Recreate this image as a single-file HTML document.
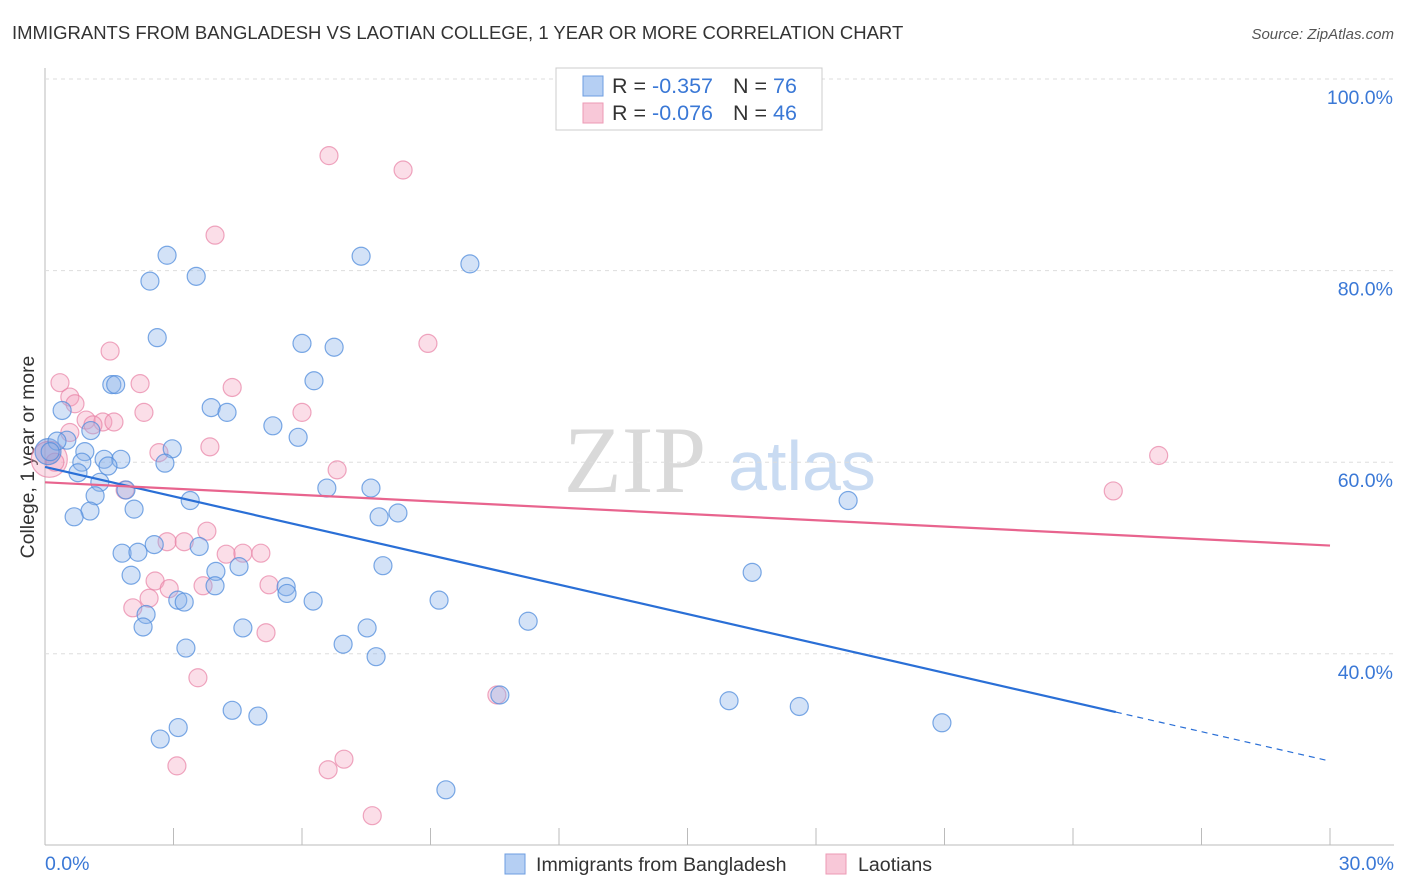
<!DOCTYPE html>
<html><head><meta charset="utf-8"><style>
body{margin:0;background:#fff;font-family:"Liberation Sans",sans-serif;}
#w{position:relative;width:1406px;height:892px;overflow:hidden}
</style></head><body><div id="w">
<svg id="s" width="1406" height="892" xmlns="http://www.w3.org/2000/svg">
<text x="12" y="39" font-size="18.5" fill="#333">IMMIGRANTS FROM BANGLADESH VS LAOTIAN COLLEGE, 1 YEAR OR MORE CORRELATION CHART</text>
<text x="1394" y="39" font-size="15" fill="#555" font-style="italic" text-anchor="end">Source: ZipAtlas.com</text>
<text x="34" y="457" font-size="19.4" fill="#333" text-anchor="middle" transform="rotate(-90 34 457)">College, 1 year or more</text>
<text x="635" y="492" font-size="95" fill="#d9d9d9" font-family="Liberation Serif,serif" text-anchor="middle">ZIP</text>
<text x="802" y="490" font-size="70" fill="#c9dbf2" text-anchor="middle">atlas</text>
<g id="grid"></g><g id="pts"></g><g id="lines"></g>
<g>
<rect x="556" y="68" width="266" height="62" fill="#fff" stroke="#ccc"/>
<rect x="583" y="76" width="20" height="20" fill="#b5cff3" stroke="#6d9de0"/>
<rect x="583" y="103" width="20" height="20" fill="#f8c8d8" stroke="#ec9ab5"/>
<text x="612" y="93" font-size="21.5" fill="#333">R = <tspan fill="#3a78d6">-0.357</tspan></text>
<text x="733" y="93" font-size="21.5" fill="#333">N = <tspan fill="#3a78d6">76</tspan></text>
<text x="612" y="120" font-size="21.5" fill="#333">R = <tspan fill="#3a78d6">-0.076</tspan></text>
<text x="733" y="120" font-size="21.5" fill="#333">N = <tspan fill="#3a78d6">46</tspan></text>
</g>
<g>
<rect x="505" y="854" width="20" height="20" fill="#b5cff3" stroke="#6d9de0"/>
<text x="536" y="871" font-size="19.6" fill="#333">Immigrants from Bangladesh</text>
<rect x="826" y="854" width="20" height="20" fill="#f8c8d8" stroke="#ec9ab5"/>
<text x="858" y="871" font-size="19.6" fill="#333">Laotians</text>
</g>
</svg></div>
<script>
const yTicks=[100,80,60,40];
const yTickLabels=["100.0%","80.0%","60.0%","40.0%"];
const xTickVals=[0,3,6,9,12,15,18,21,24,27,30];
const xEndLabels=["0.0%","30.0%"];
const blueX=[2.85,2.45,3.53,7.38,9.92,2.62,6.0,6.75,6.28,1.56,1.65,0.40,3.88,4.25,5.32,5.91,1.07,0.51,0.28,0.12,2.97,0.93,0.86,1.38,1.77,1.47,2.8,0.77,1.28,1.89,1.17,6.58,7.61,3.39,2.08,1.05,0.68,7.8,8.24,18.75,2.55,3.6,1.8,2.17,4.53,7.89,2.01,3.99,16.51,3.97,5.63,5.65,3.1,3.25,6.26,9.2,2.36,2.29,4.62,7.52,11.28,3.29,6.96,7.73,10.62,15.97,17.61,4.37,4.97,20.94,3.11,2.69,9.36];
const blueY=[81.6,78.9,79.4,81.5,80.7,73.0,72.4,72.0,68.5,68.1,68.1,65.4,65.7,65.2,63.8,62.6,63.3,62.3,62.2,61.1,61.4,61.1,60.0,60.3,60.3,59.6,59.9,58.9,57.9,57.1,56.5,57.3,57.3,56.0,55.1,54.9,54.3,54.3,54.7,56.0,51.4,51.2,50.5,50.6,49.1,49.2,48.2,48.6,48.5,47.1,47.0,46.3,45.6,45.4,45.5,45.6,44.1,42.8,42.7,42.7,43.4,40.6,41.0,39.7,35.7,35.1,34.5,34.1,33.5,32.8,32.3,31.1,25.8];
const pinkX=[6.63,8.36,3.97,8.94,1.52,0.35,2.22,4.37,0.58,0.7,2.31,6.0,0.96,1.35,1.61,1.12,0.58,3.85,2.66,0.23,6.82,26.0,1.87,24.94,3.78,2.85,3.25,4.23,4.62,5.04,2.57,2.9,3.69,5.23,2.43,2.05,5.16,3.57,10.55,6.98,6.61,3.08,7.64];
const pinkY=[92.0,90.5,83.7,72.4,71.6,68.3,68.2,67.8,66.8,66.1,65.2,65.2,64.4,64.2,64.2,63.9,63.1,61.6,61.0,60.0,59.2,60.7,57.1,57.0,52.8,51.7,51.7,50.4,50.5,50.5,47.6,46.8,47.1,47.2,45.8,44.8,42.2,37.5,35.7,29.0,27.9,28.3,23.1];
const bigBlue=[0.07,61.1]; const bigPink=[0.1,60.3];
const blueTrend=[59.5,28.8]; const blueSolidEnd=25;
const pinkTrend=[57.9,51.3];
const X=v=>45+v/30*1285, Y=v=>79+(100-v)*9.58;
const NS="http://www.w3.org/2000/svg";
function mk(t,a,p){const e=document.createElementNS(NS,t);for(const k in a)e.setAttribute(k,a[k]);p.appendChild(e);return e;}
const g=document.getElementById('grid');
const ax=mk('line',{x1:45,y1:68,x2:45,y2:845,stroke:'#bbb'},g);


const bx=mk('line',{x1:45,y1:845,x2:1394,y2:845,stroke:'#bbb'},g);


yTicks.forEach((v,i)=>{
 const l=mk('line',{x1:45,y1:Y(v),x2:1394,y2:Y(v),stroke:'#ddd','stroke-dasharray':'4,4'},g);
 
 
 const t=mk('text',{x:1393,y:Y(v)+25,'font-size':19.5,fill:'#3a78d6','text-anchor':'end'},g);t.textContent=yTickLabels[i];
 
 
});
xTickVals.forEach(v=>{const l=mk('line',{x1:X(v),y1:828,x2:X(v),y2:845,stroke:'#bbb'},g);
 
 });
[[0,'start',45],[30,'end',1394]].forEach((a,i)=>{const t=mk('text',{x:a[2],y:870,'font-size':19.5,fill:'#3a78d6','text-anchor':a[1]},g);t.textContent=xEndLabels[i];
 
 });
const p=document.getElementById('pts');
const bp=mk('circle',{cx:X(bigPink[0]),cy:Y(bigPink[1]),r:18,fill:'rgba(244,160,190,0.35)',stroke:'rgba(232,130,165,0.7)','stroke-width':1.2},p);


pinkX.forEach((x,i)=>{const c=mk('circle',{cx:X(x),cy:Y(pinkY[i]),r:9,fill:'rgba(244,160,190,0.35)',stroke:'rgba(232,130,165,0.7)','stroke-width':1.2},p);
 
 });
const bb=mk('circle',{cx:X(bigBlue[0]),cy:Y(bigBlue[1]),r:13,fill:'rgba(120,140,210,0.45)',stroke:'rgba(80,140,220,0.75)','stroke-width':1.2},p);


blueX.forEach((x,i)=>{const c=mk('circle',{cx:X(x),cy:Y(blueY[i]),r:9,fill:'rgba(140,180,235,0.38)',stroke:'rgba(80,140,220,0.75)','stroke-width':1.2},p);
 
 });
const L=document.getElementById('lines');
const bAt=x=>blueTrend[0]+(blueTrend[1]-blueTrend[0])*x/30;
const b1=mk('line',{x1:X(0),y1:Y(blueTrend[0]),x2:X(blueSolidEnd),y2:Y(bAt(blueSolidEnd)),stroke:'#2a6fd6','stroke-width':2.2},L);


const b2=mk('line',{x1:X(blueSolidEnd),y1:Y(bAt(blueSolidEnd)),x2:X(30),y2:Y(blueTrend[1]),stroke:'#2a6fd6','stroke-width':1.2,'stroke-dasharray':'6,5'},L);


const p1=mk('line',{x1:X(0),y1:Y(pinkTrend[0]),x2:X(30),y2:Y(pinkTrend[1]),stroke:'#e8648e','stroke-width':2.2},L);


</script></body></html>
